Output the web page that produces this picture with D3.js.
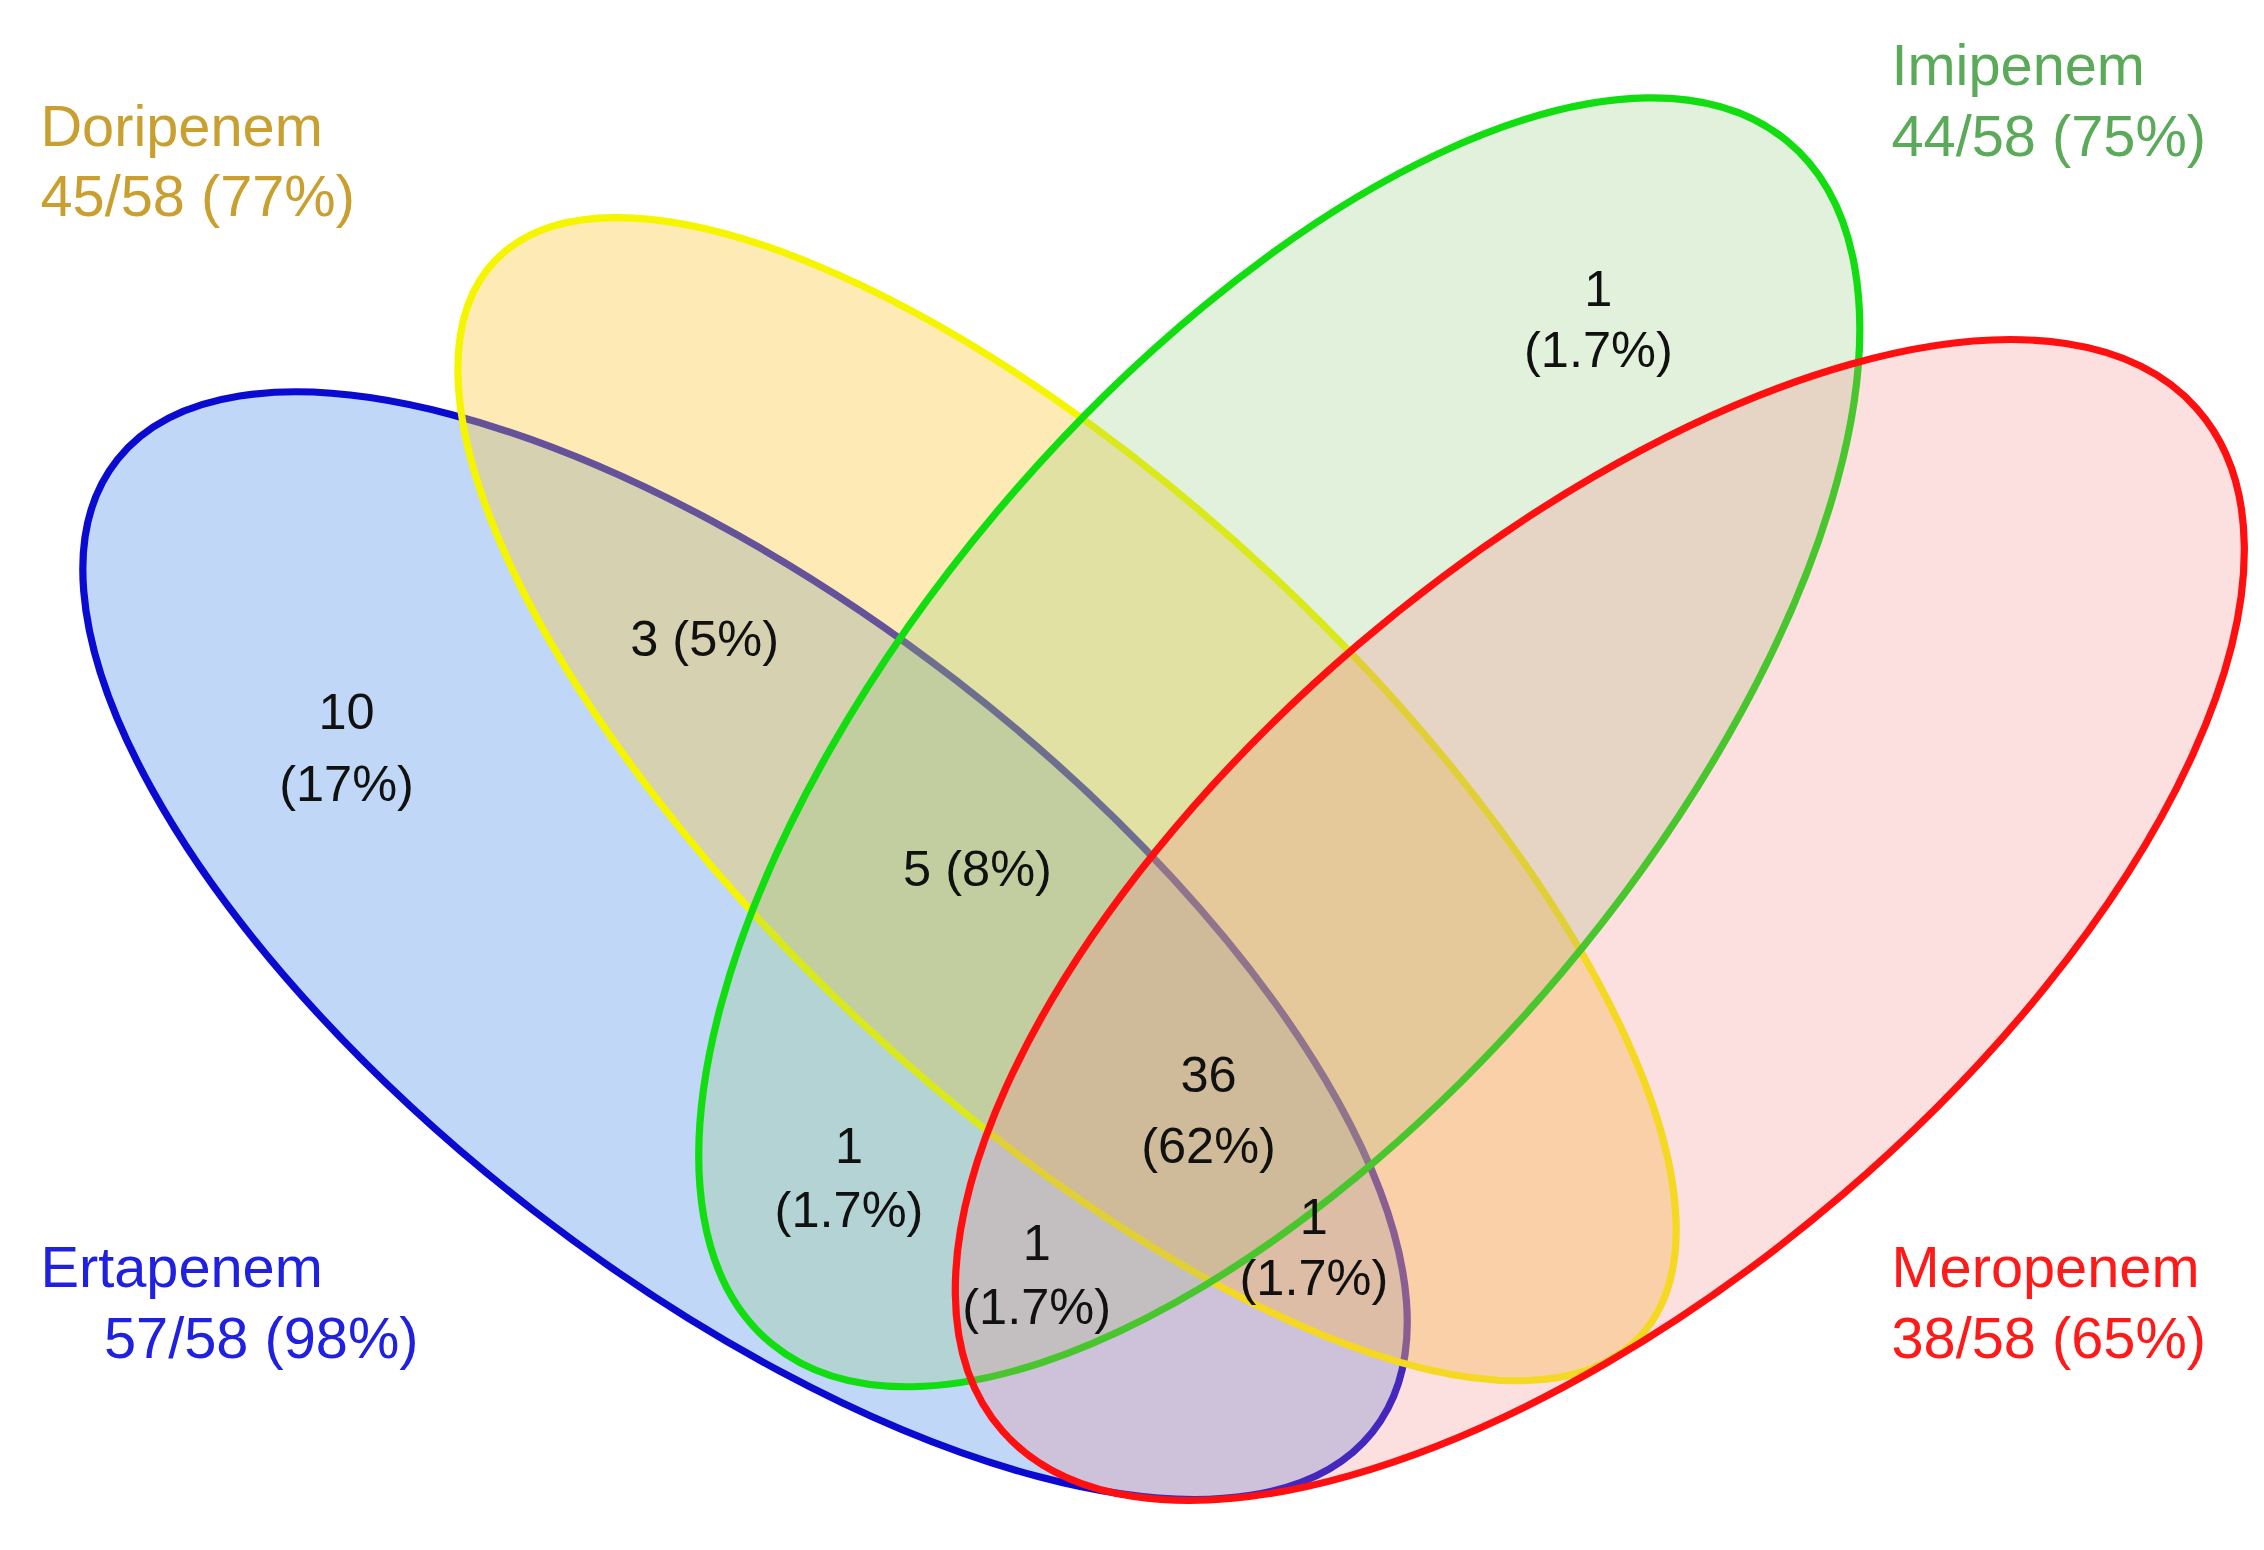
<!DOCTYPE html>
<html><head><meta charset="utf-8">
<script src="https://cdn.jsdelivr.net/npm/d3@7"></script>
<style>html,body{margin:0;background:#fff}svg{display:block}</style>
</head><body>
<script>
const sets = ["Ertapenem","Doripenem","Imipenem","Meropenem"];
const setCounts = [57,45,44,38];
const total = 58;
const setPercents = [98,77,75,65];
const regionCounts = [10,3,1,5,36,1,1,1];
const regionPercents = ["17%","5%","1.7%","8%","62%","1.7%","1.7%","1.7%"];

// layout (reference pixel space 1568x1090)
const W=2264,H=1550;
const ellipses=[
 {cx:516,cy:665,rx:553,ry:237,rot:38.2,stroke:"#0a0ad0",fill:"rgb(60,130,230)",op:0.32},
 {cx:739,cy:562,rx:548,ry:212,rot:43.8,stroke:"#f5f500",fill:"rgb(250,200,60)",op:0.38},
 {cx:886,cy:522,rx:550,ry:254,rot:-50.3,stroke:"#11dd11",fill:"rgb(140,200,110)",op:0.25},
 {cx:1108,cy:647,rx:548,ry:256,rot:-41,stroke:"#ff1010",fill:"rgb(245,130,130)",op:0.25}
];
const setLabelPos=[
 {x:[28,72],y:[905,955],color:"#2020e0"},
 {x:[28,28],y:[103,152],color:"#c9a030"},
 {x:[1310,1310],y:[60,110],color:"#5aaa5a"},
 {x:[1310,1310],y:[905,955],color:"#ff1a1a"}
];
const regionPos=[
 {x:240,y:[510,560],split:true},
 {x:488,y:[458],split:false},
 {x:1107,y:[212,255],split:true},
 {x:677,y:[620],split:false},
 {x:837,y:[765,815],split:true},
 {x:588,y:[815,860],split:true},
 {x:718,y:[883,928],split:true},
 {x:910,y:[865,908],split:true}
];

const svg=d3.select("body").append("svg").attr("width",W).attr("height",H);
const g=svg.append("g").attr("transform",`scale(${W/1568},${H/1090})`);
g.selectAll("ellipse").data(ellipses).join("ellipse")
  .attr("cx",e=>e.cx).attr("cy",e=>e.cy).attr("rx",e=>e.rx).attr("ry",e=>e.ry)
  .attr("transform",e=>`rotate(${e.rot},${e.cx},${e.cy})`)
  .attr("fill",e=>e.fill).attr("fill-opacity",e=>e.op)
  .attr("stroke",e=>e.stroke).attr("stroke-width",5);
const font="Liberation Sans, Arial, sans-serif";
sets.forEach((s,i)=>{
  const p=setLabelPos[i];
  const t1=s, t2=`${setCounts[i]}/${total} (${setPercents[i]}%)`;
  [t1,t2].forEach((t,j)=>{
    g.append("text").attr("x",p.x[j]).attr("y",p.y[j]).text(t)
     .attr("font-family",font).attr("font-size",40).attr("fill",p.color);
  });
});
regionCounts.forEach((c,i)=>{
  const p=regionPos[i];
  const lines=p.split?[String(c),`(${regionPercents[i]})`]:[`${c} (${regionPercents[i]})`];
  lines.forEach((t,j)=>{
    g.append("text").attr("x",p.x).attr("y",p.y[j]+3).attr("text-anchor","middle").text(t)
     .attr("font-family",font).attr("font-size",35).attr("fill","#111");
  });
});
</script>
</body></html>
